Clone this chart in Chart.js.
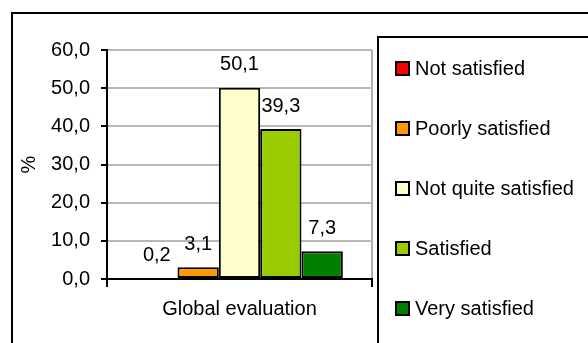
<!DOCTYPE html>
<html>
<head>
<meta charset="utf-8">
<script src="https://cdn.jsdelivr.net/npm/chart.js@4/dist/chart.umd.min.js"></script>
<style>
  html, body { margin: 0; padding: 0; background: #fff; }
  #wrap { width: 588px; height: 343px; position: relative; }
</style>
</head>
<body>
<div id="wrap"><canvas id="chart" width="588" height="343"></canvas></div>
<script>
// Data
const categories = ["Global evaluation"];
const seriesNames = ["Not satisfied", "Poorly satisfied", "Not quite satisfied", "Satisfied", "Very satisfied"];
const seriesValues = [[0.2], [3.1], [50.1], [39.3], [7.3]];
const seriesColors = ["#ff0000", "#ff9900", "#ffffcc", "#99cc00", "#008000"];
const yTicks = [0, 10, 20, 30, 40, 50, 60];

const FONT = "Liberation Sans, Arial, sans-serif";
const FS = 20;
const fmt = v => Number(v).toFixed(1).replace(".", ",");

// frames around the whole chart and the legend
const framePlugin = {
  id: "frames",
  afterDraw(chart) {
    const ctx = chart.ctx;
    ctx.save();
    ctx.strokeStyle = "#000";
    ctx.lineWidth = 2;
    ctx.strokeRect(12, 13, 600, 360);
    ctx.strokeRect(378, 37, 240, 340);
    ctx.restore();
  }
};

// value labels above the bars
const valueLabels = {
  id: "valueLabels",
  afterDatasetsDraw(chart) {
    const ctx = chart.ctx;
    ctx.save();
    ctx.font = FS + "px " + FONT;
    ctx.fillStyle = "#000";
    ctx.textAlign = "center";
    ctx.textBaseline = "middle";
    chart.data.datasets.forEach((ds, i) => {
      chart.getDatasetMeta(i).data.forEach((bar, j) => {
        ctx.fillText(fmt(ds.data[j]), bar.x, bar.y - 23);
      });
    });
    ctx.restore();
  }
};

// legend drawn from the datasets
const sideLegend = {
  id: "sideLegend",
  afterDraw(chart) {
    const ctx = chart.ctx;
    ctx.save();
    ctx.font = FS + "px " + FONT;
    ctx.textBaseline = "middle";
    chart.data.datasets.forEach((ds, i) => {
      const y = 68 + i * 60;
      ctx.fillStyle = ds.backgroundColor;
      ctx.fillRect(396, y - 6, 13, 13);
      ctx.strokeStyle = "#000";
      ctx.lineWidth = 2;
      ctx.strokeRect(396, y - 6, 13, 13);
      ctx.fillStyle = "#000";
      ctx.fillText(ds.label, 415, y + 1);
    });
    ctx.restore();
  }
};

new Chart(document.getElementById("chart"), {
  type: "bar",
  data: {
    labels: categories,
    datasets: seriesNames.map((name, i) => ({
      label: name,
      data: seriesValues[i],
      backgroundColor: seriesColors[i],
      borderColor: "#000",
      borderWidth: 2,
      borderSkipped: false,
      categoryPercentage: 0.78,
      barPercentage: 1
    }))
  },
  options: {
    responsive: false,
    animation: false,
    layout: { padding: { left: 0, right: 216, top: 50, bottom: 0 } },
    plugins: {
      legend: { display: false },
      tooltip: { enabled: false }
    },
    scales: {
      x: {
        afterFit: s => { s.height = 64; },
        grid: { color: "#b0b0b0", lineWidth: 2, tickColor: "#000", tickLength: 8, offset: true },
        border: { color: "#000", width: 2 },
        ticks: { color: "#000", font: { family: FONT, size: FS }, padding: 10 }
      },
      y: {
        min: 0,
        max: 60,
        afterFit: s => { s.width = 107; },
        afterBuildTicks: s => { s.ticks = yTicks.map(v => ({ value: v })); },
        grid: { color: "#b8b8b8", lineWidth: 2, tickColor: "#000", tickLength: 6 },
        border: { color: "#000", width: 2 },
        ticks: {
          color: "#000",
          font: { family: FONT, size: FS },
          padding: 11,
          callback: v => fmt(v)
        },
        title: {
          display: true,
          text: "%",
          color: "#000",
          font: { family: FONT, size: FS },
          padding: { top: 17, bottom: 0 }
        }
      }
    }
  },
  plugins: [framePlugin, valueLabels, sideLegend]
});
</script>
</body>
</html>
